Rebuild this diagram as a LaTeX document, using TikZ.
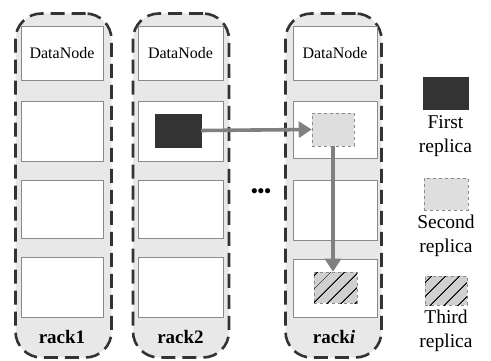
\documentclass[tikz,border=0pt]{standalone}
\usepackage{fontspec}
\setmainfont{Liberation Serif}
\usetikzlibrary{arrows.meta,patterns.meta}
\definecolor{rackfill}{HTML}{E8E8E8}
\definecolor{rackline}{HTML}{333333}
\definecolor{cellline}{HTML}{8A8A8A}
\definecolor{firstc}{HTML}{333333}
\definecolor{secondc}{HTML}{DEDEDE}
\definecolor{thirdc}{HTML}{D0D0D0}
\definecolor{arrowc}{HTML}{808080}
\tikzset{
  rackbox/.style={draw=rackline, fill=rackfill, line width=2.6pt, dash pattern=on 14pt off 7pt, rounded corners=26pt, minimum width=96pt, minimum height=344pt, inner sep=0pt},
  cellbox/.style={draw=cellline, fill=white, line width=0.8pt, minimum height=57pt, inner sep=0pt, font=\fontsize{16}{19}\selectfont},
  firstrep/.style={draw=firstc, fill=firstc, inner sep=0pt},
  secondrep/.style={draw=cellline, fill=secondc, dashed, line width=0.6pt, inner sep=0pt},
  thirdrep/.style={draw=cellline, dashed, line width=0.6pt, inner sep=0pt, fill=thirdc, postaction={pattern={Lines[angle=45,distance=10.5pt,line width=1.1pt]}, pattern color=black}},
  replarrow/.style={draw=arrowc, line width=3.6pt, -{Triangle[length=13pt,width=16pt]}, arrowc},
  racklabel/.style={font=\fontsize{19}{22}\selectfont\bfseries},
  leglabel/.style={align=center, font=\fontsize{19.5}{23.5}\selectfont},
}
\begin{document}
\begin{tikzpicture}[x=1pt,y=-1pt]
\useasboundingbox (0,0) rectangle (491,361);
% racks
\node[rackbox] (rack1) at (63.5,185.5) {};
\node[rackbox] (rack2) at (181,185.5) {};
\node[rackbox] (racki) at (333.5,185.5) {};
% cells rack1
\node[cellbox, minimum width=82pt, minimum height=54pt] (a1) at (62,53) {DataNode};
\node[cellbox, minimum width=82pt, minimum height=60pt] (a2) at (62,131) {};
\node[cellbox, minimum width=82pt, minimum height=58pt] (a3) at (62,209) {};
\node[cellbox, minimum width=82pt, minimum height=60pt] (a4) at (62,287) {};
% cells rack2
\node[cellbox, minimum width=85pt, minimum height=54pt] (b1) at (180.5,53) {DataNode};
\node[cellbox, minimum width=85pt, minimum height=60pt] (b2) at (180.5,131) {};
\node[cellbox, minimum width=85pt, minimum height=58pt] (b3) at (180.5,209) {};
\node[cellbox, minimum width=85pt, minimum height=60pt] (b4) at (180.5,287) {};
% cells racki
\node[cellbox, minimum width=84pt, minimum height=54pt] (c1) at (335,53) {DataNode};
\node[cellbox, minimum width=84pt, minimum height=57pt] (c2) at (335,129.5) {};
\node[cellbox, minimum width=84pt, minimum height=60pt] (c3) at (335,210) {};
\node[cellbox, minimum width=84pt, minimum height=58pt] (c4) at (335,288) {};
% rack labels
\node[racklabel] (l1) at (62,337) {rack1};
\node[racklabel] (l2) at (180.5,337) {rack2};
\node[racklabel] (li) at (334,337) {rack\textit{i}};
% replicas
\node[firstrep, minimum width=46pt, minimum height=33pt] (f1) at (178,130.5) {};
\node[secondrep, minimum width=42pt, minimum height=33pt] (s2) at (333,129.5) {};
\node[thirdrep, minimum width=43pt, minimum height=31pt] (t3) at (335.5,287.5) {};
% arrows
\draw[replarrow] (f1.east) -- (s2.west);
\draw[replarrow] (s2.south) -- (s2.south |- t3.north);
% dots
\node[font=\fontsize{19}{22}\selectfont\bfseries] (dots) at (261,193) {•••};
% legend
\node[firstrep, minimum width=45pt, minimum height=32pt] (lg1) at (445.5,93) {};
\node[leglabel] (lt1) at (445.5,136) {First\\replica};
\node[secondrep, minimum width=44pt, minimum height=32pt] (lg2) at (446,194) {};
\node[leglabel] (lt2) at (446,236) {Second\\replica};
\node[thirdrep, minimum width=42pt, minimum height=29pt] (lg3) at (446,290.5) {};
\node[leglabel] (lt3) at (446,331) {Third\\replica};
\end{tikzpicture}
\end{document}
